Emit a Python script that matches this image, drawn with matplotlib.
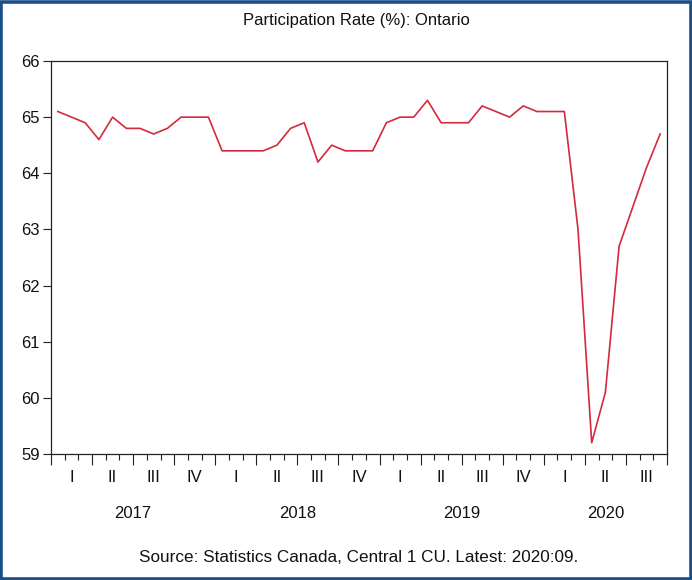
import matplotlib
matplotlib.use("Agg")
import matplotlib.pyplot as plt
import matplotlib.transforms as mtransforms
from matplotlib.patches import Rectangle
import numpy as np

plt.rcParams['font.family'] = ['Liberation Sans', 'DejaVu Sans']

values_2017 = [65.1, 65.0, 64.9, 64.6, 65.0, 64.8, 64.8, 64.7, 64.8, 65.0, 65.0, 65.0]
values_2018 = [64.4, 64.4, 64.4, 64.4, 64.5, 64.8, 64.9, 64.2, 64.5, 64.4, 64.4, 64.4]
values_2019 = [64.9, 65.0, 65.0, 65.3, 64.9, 64.9, 64.9, 65.2, 65.1, 65.0, 65.2, 65.1]
values_2020 = [65.1, 65.1, 63.0, 59.2, 60.1, 62.7, 63.4, 64.1, 64.7]
years = ["2017", "2018", "2019", "2020"]
quarter_labels = ["I", "II", "III", "IV"]
y_ticks = [59, 60, 61, 62, 63, 64, 65, 66]

values = values_2017 + values_2018 + values_2019 + values_2020
n = len(values)
x = np.arange(n) + 0.5

fig = plt.figure(figsize=(6.92, 5.80), dpi=100)
ax = fig.add_axes([51/692, 1-454/580, (667-51)/692, (454-61)/580])

ax.plot(x, values, color='#d42a3c', linewidth=1.2)

ax.set_xlim(0, n)
ax.set_ylim(59, 66)
ax.set_yticks(y_ticks)
ax.set_yticklabels([str(v) for v in y_ticks], fontsize=12)
ax.tick_params(axis='y', direction='out', length=6, width=0.8, pad=2, colors='#222222')
ax.tick_params(axis='y', labelcolor='#111111')

ax.set_xticks(np.arange(0, n + 1, 3))
ax.set_xticks(np.arange(0, n + 1, 1), minor=True)
ax.set_xticklabels([])
ax.tick_params(axis='x', which='major', direction='out', length=8, width=0.8, colors='#222222')
ax.tick_params(axis='x', which='minor', direction='out', length=4, width=0.8, colors='#222222')

for s in ax.spines.values():
    s.set_linewidth(0.9)
    s.set_color('#222222')

trans = mtransforms.blended_transform_factory(ax.transData, fig.transFigure)
year_lengths = [len(values_2017), len(values_2018), len(values_2019), len(values_2020)]
start = 0
for yr, ln in zip(years, year_lengths):
    nq = int(np.ceil(ln / 3))
    for q in range(nq):
        qs = start + q * 3
        qe = min(start + ln, qs + 3)
        ax.text((qs + qe) / 2, 1 - 478/580, quarter_labels[q], transform=trans,
                ha='center', va='center', fontsize=12, color='#111111')
    ax.text(start + ln / 2, 1 - 513/580, yr, transform=trans,
            ha='center', va='center', fontsize=12, color='#111111')
    start += ln

fig.text(356/692, 1 - 20/580, "Participation Rate (%): Ontario", ha='center', va='center',
         fontsize=12, color='#111111')
fig.text(359/692, 1 - 557/580, "Source: Statistics Canada, Central 1 CU. Latest: 2020:09.",
         ha='center', va='center', fontsize=12.3, color='#111111')

border = Rectangle((1.5/692, 1.5/580), 1 - 3/692, 1 - 3/580, transform=fig.transFigure,
                   fill=False, edgecolor='#1c4f8a', linewidth=2.6)
fig.patches.append(border)

fig.savefig("out.png", dpi=100)
